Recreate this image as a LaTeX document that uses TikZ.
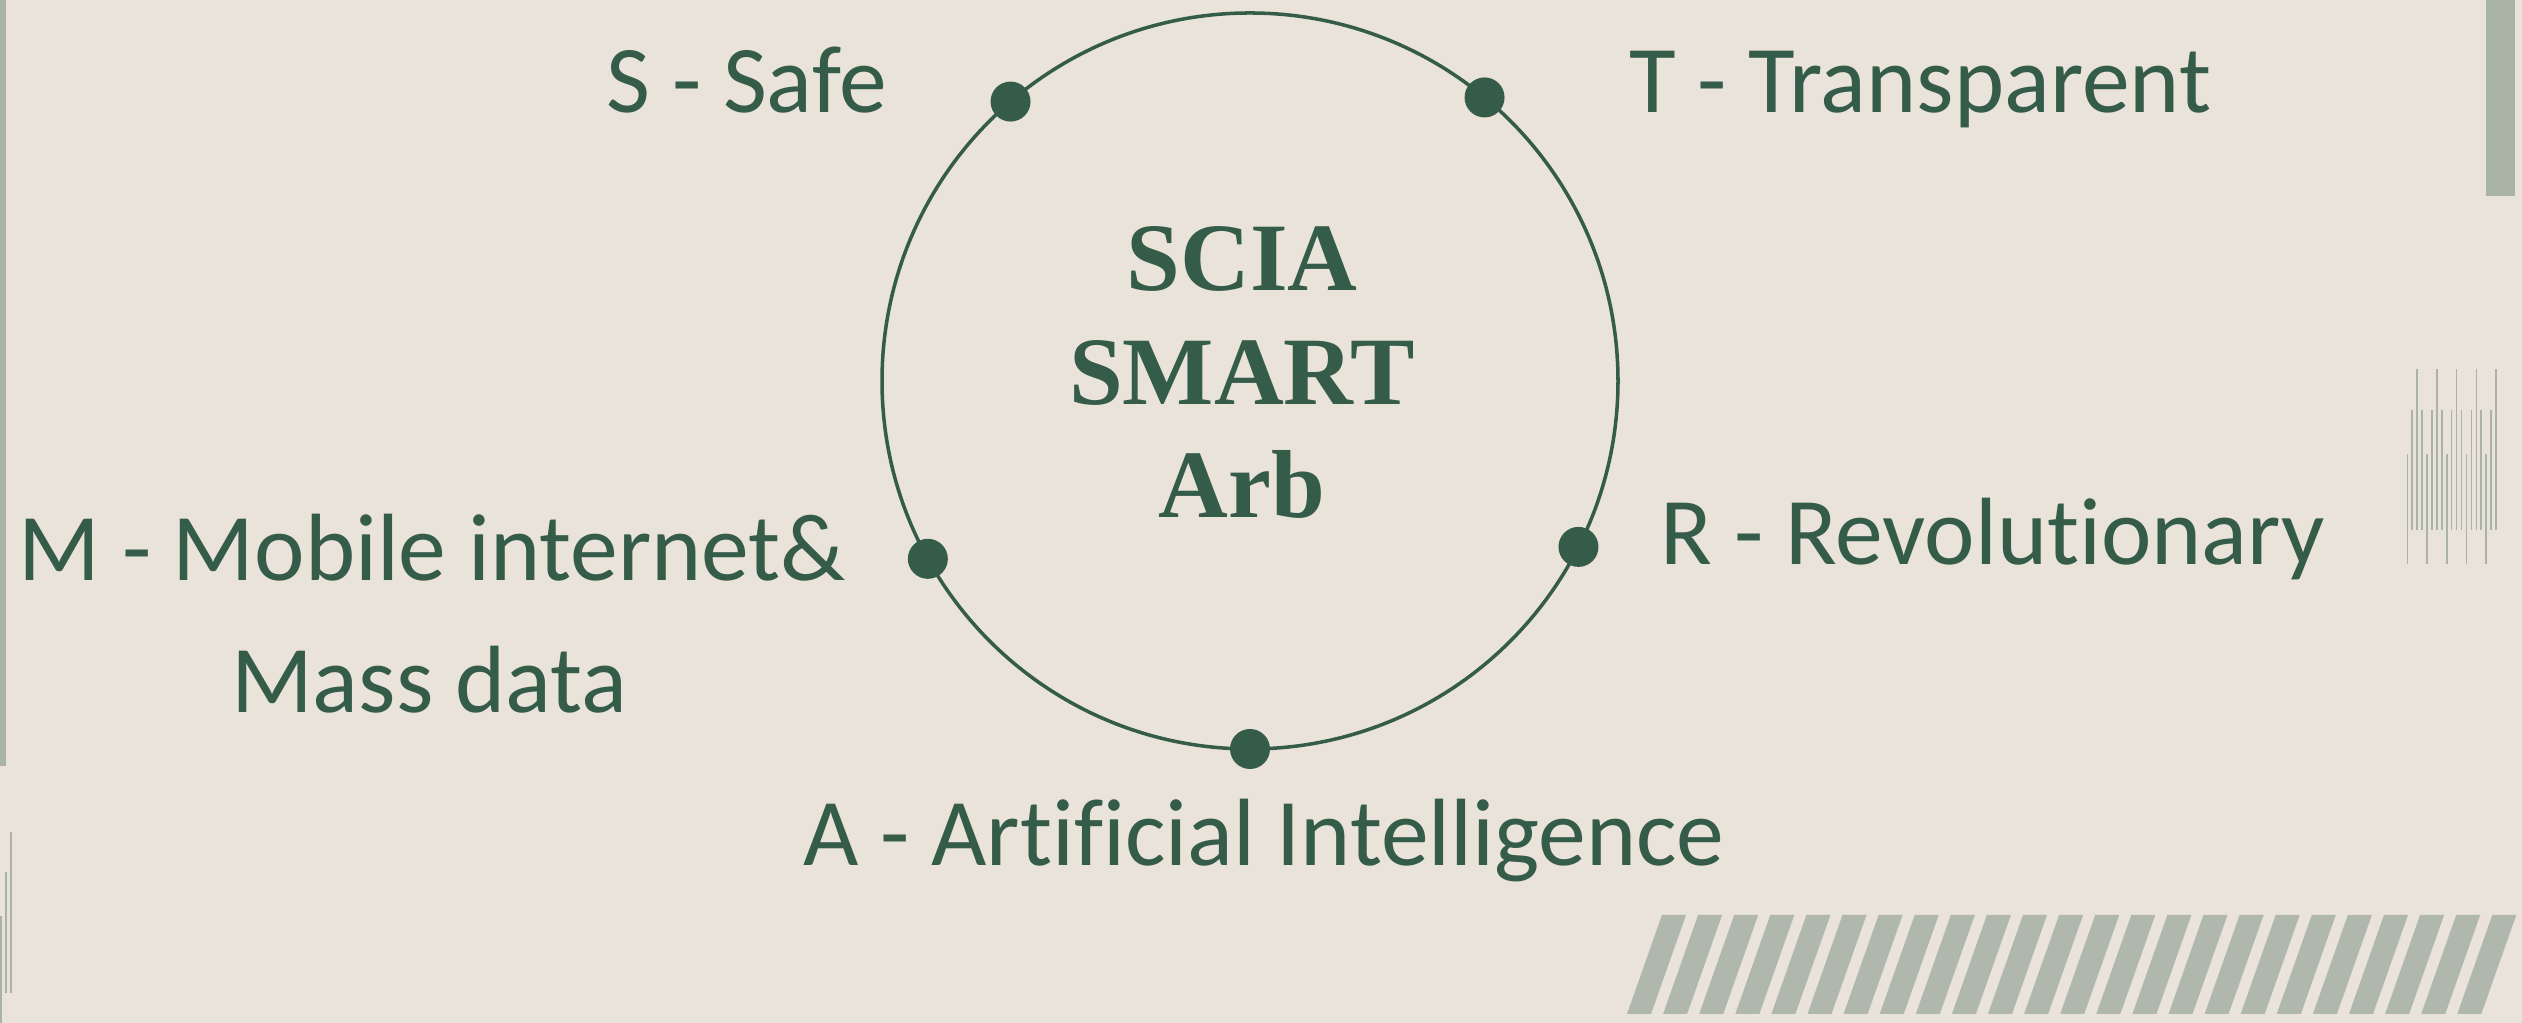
\documentclass[tikz,border=0pt]{standalone}
\usepackage{fontspec}
\setmainfont{Carlito}[Ligatures=NoCommon]
\newfontfamily\titlefont{Liberation Serif}
\usetikzlibrary{positioning, calc}
\definecolor{bgsand}{HTML}{E9E3D9}
\definecolor{deepgreen}{HTML}{345C49}
\definecolor{sage}{HTML}{AAB4A6}
\definecolor{sagelight}{HTML}{B0B7AC}

\begin{document}
\begin{tikzpicture}[
    lbl/.style={inner sep=0pt, text=deepgreen, font=\fontsize{27.2}{32}\selectfont, anchor=base west},
    bead/.style={circle, fill=deepgreen, inner sep=0pt, minimum size=0.4cm},
    ring/.style={draw=deepgreen, line width=1pt},
    hairline/.style={draw=sage, line width=0.45pt},
    slant/.style={fill=sagelight},
]
% Page
\fill[bgsand] (0,0) rectangle (25.22,10.23);
\useasboundingbox (0,0) rectangle (25.22,10.23);

% Edge bars
\fill[sage] (0,2.57) rectangle (0.06,10.23);
\fill[sage] (24.86,8.27) rectangle (25.15,10.23);

% Barcode ticks, right side
\foreach \i in {0,...,18} {
    \pgfmathtruncatemacro\k{mod(\i,4)}
    \pgfmathsetmacro\xx{24.073+0.0493*\i}
    \ifcase\k
        \draw[hairline] (\xx,4.59) -- (\xx,5.69);
    \or
        \draw[hairline] (\xx,4.93) -- (\xx,6.13);
    \or
        \draw[hairline] (\xx,4.93) -- (\xx,6.54);
    \or
        \draw[hairline] (\xx,4.93) -- (\xx,6.13);
    \fi
}
% Barcode ticks, lower left corner
\draw[hairline] (0.01,0) -- (0.01,1.07);
\draw[hairline] (0.06,0.30) -- (0.06,1.51);
\draw[hairline] (0.11,0.30) -- (0.11,1.91);

% Slanted stripes
\foreach \i in {0,...,23} {
    \pgfmathsetmacro\xx{16.27+0.361*\i}
    \fill[slant] (\xx,0.09) -- ++(0.24,0) -- ++(0.35,0.99) -- ++(-0.24,0) -- cycle;
}

% Ring with the five letters
\coordinate (c) at (12.50,6.42);
\draw[ring] (c) circle[radius=3.68cm];
\node[bead] (sdot) at ($(c)+(130.6:3.68)$) {};
\node[bead] (tdot) at ($(c)+(50.4:3.68)$) {};
\node[bead] (rdot) at ($(c)+(-26.8:3.68)$) {};
\node[bead] (adot) at ($(c)+(-90:3.68)$) {};
\node[bead] (mdot) at ($(c)+(208.9:3.68)$) {};

% Title (base sits on the last line)
\node[font=\titlefont\bfseries\fontsize{27.5}{32.4}\selectfont, text=deepgreen, align=center, inner sep=0pt, anchor=base] (core) at (12.42,5.05) {SCIA\\SMART\\Arb};

% Letters
\node[lbl] (safe) at (6.06,9.10) {S - Safe};
\node[lbl] (transp) at (16.29,9.10) {T - Transparent};
\node[lbl] (revol) at (16.60,4.58) {R - Revolutionary};
\node[lbl] (artif) at (8.03,1.57) {A - Artificial Intelligence};
\node[lbl] (mobile) at (0.18,4.42) {M - Mobile internet\&};
\node[lbl, anchor=base] (mass) at (4.29,3.10) {Mass data};
\end{tikzpicture}
\end{document}
